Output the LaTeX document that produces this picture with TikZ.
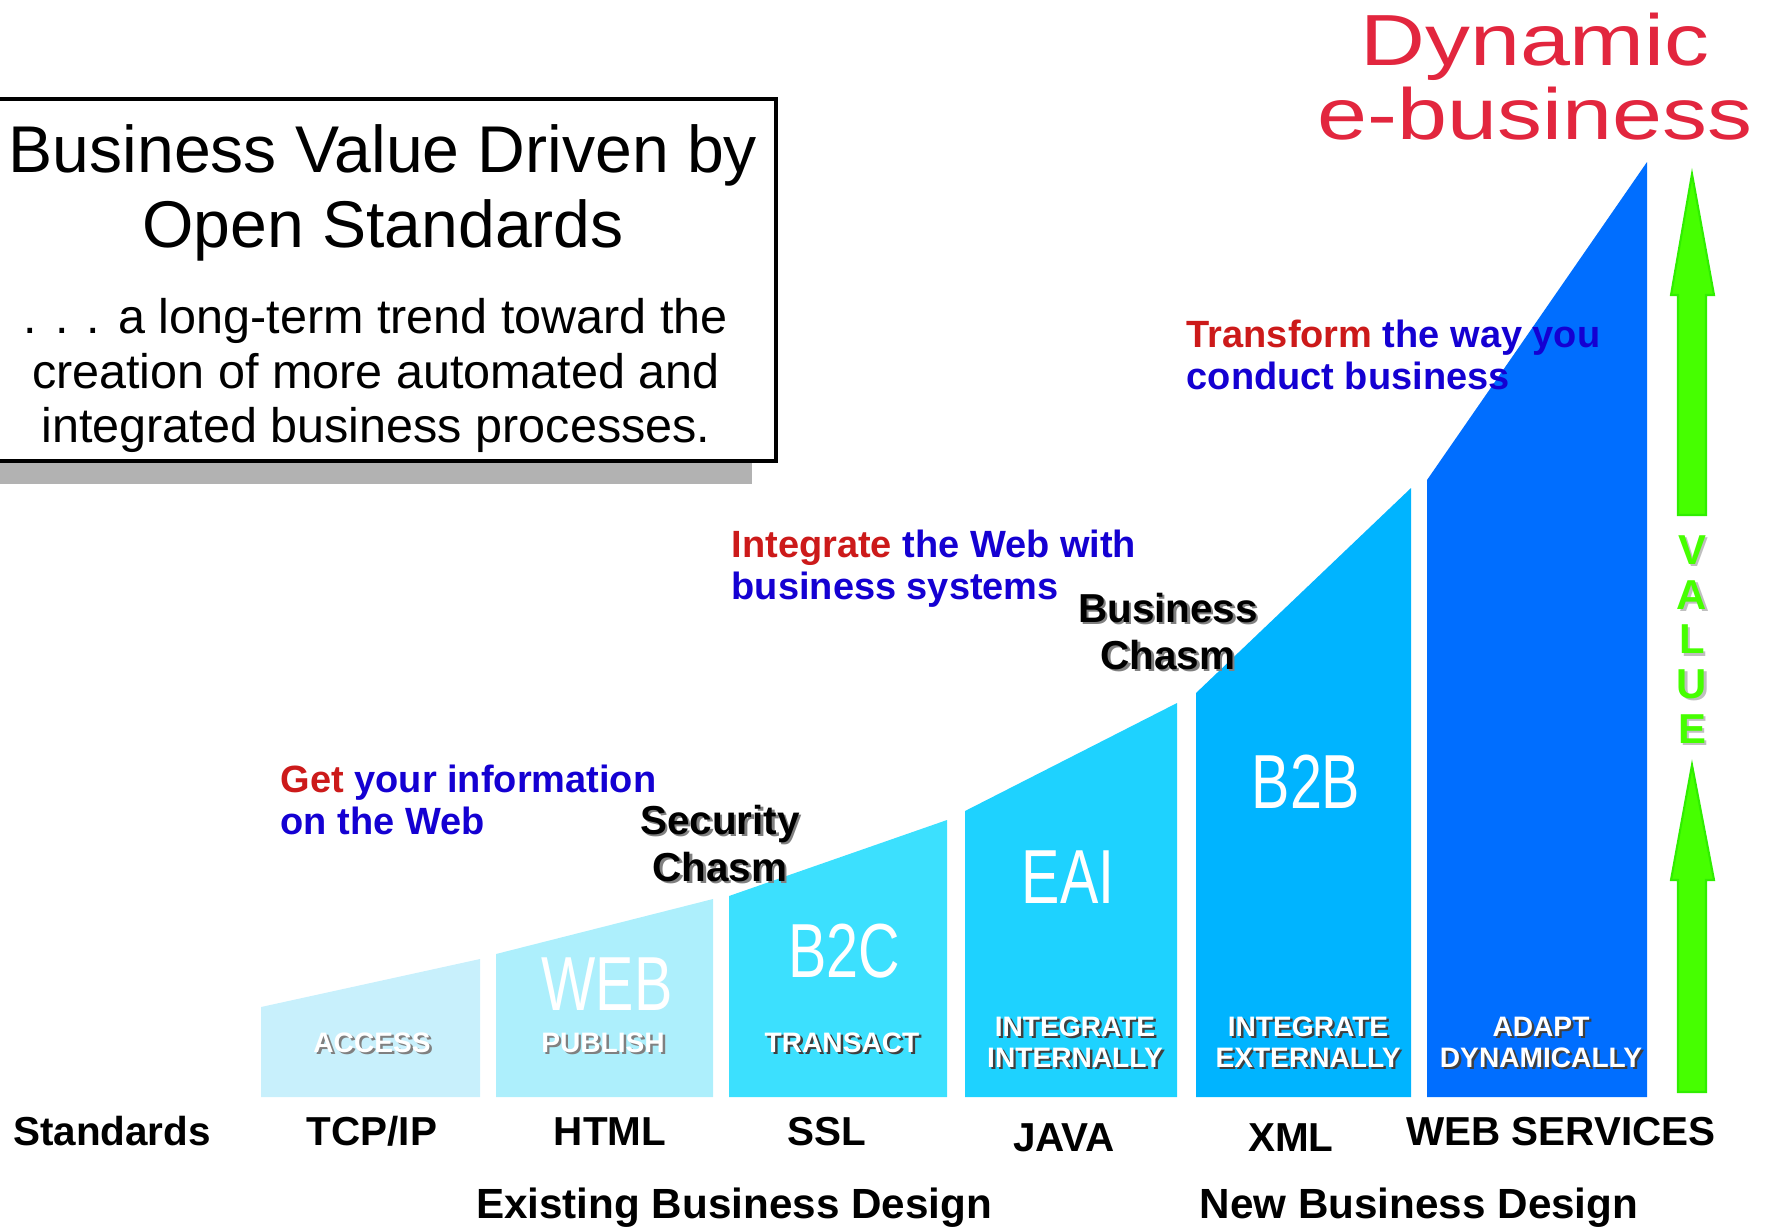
\documentclass[tikz,border=0pt]{standalone}
\usepackage{fontspec}
\setmainfont{Liberation Sans}
\newfontfamily\widesans[FakeStretch=1.24]{Liberation Sans}
\newfontfamily\narrowsans[FakeStretch=0.75]{Liberation Sans}
\usepackage{xcolor}
\usepackage{tikz}
\definecolor{cAccess}{HTML}{C8F0FC}
\definecolor{cWeb}{HTML}{ADEFFC}
\definecolor{cBtoC}{HTML}{3CE0FE}
\definecolor{cEai}{HTML}{1ED2FF}
\definecolor{cBtoB}{HTML}{00B4FF}
\definecolor{cAdapt}{HTML}{006EFF}
\definecolor{cRed}{HTML}{CC1A1A}
\definecolor{cBlue}{HTML}{1400D2}
\definecolor{cDyn}{HTML}{E2263E}
\definecolor{cGreen}{HTML}{46FF00}
\definecolor{cGreenD}{HTML}{30EE00}
\definecolor{cShadow}{HTML}{B2B2B2}
% testo con ombra
\newcommand{\dropsh}[2]{\rlap{\color{#1}\kern0.7pt\raisebox{-0.7pt}{#2}}#2}

\begin{document}
\begin{tikzpicture}[x=0.01cm,y=-0.01cm,
	big/.style = {text=white,font=\narrowsans\fontsize{21.8}{24}\selectfont,anchor=base,inner sep=0pt},
	small/.style = {text=white,font=\bfseries\fontsize{8}{8.8}\selectfont,align=center,anchor=north,inner sep=0pt},
	std/.style = {font=\bfseries\fontsize{11.5}{13}\selectfont,anchor=base,inner sep=0pt},
	head/.style = {text=cBlue,font=\bfseries\fontsize{10.8}{12}\selectfont,align=left,anchor=north west,inner sep=0pt},
	chasm/.style = {font=\bfseries\fontsize{11.5}{13.5}\selectfont,align=center,anchor=north,inner sep=0pt},
	valarrow/.style = {fill=cGreen,draw=cGreenD,line width=0.6pt}
	]
	\useasboundingbox (0,0) rectangle (1769,1226);
	%RIQUADRO TITOLO
	\fill[cShadow] (-20,461) rectangle (752,484);
	\draw[fill=white,line width=1.2pt] (-20,99) rectangle (776,461);
	\node[anchor=north,inner sep=0pt,align=center,font=\fontsize{18.8}{21.3}\selectfont] (title) at (383,124) {Business Value Driven by\\Open Standards};
	\node[anchor=north,inner sep=0pt,align=center,font=\fontsize{13.8}{15.5}\selectfont] (trend) at (376,298) {. . . a long-term trend toward the\\creation of more automated and\\integrated business processes.};
	%COLONNE
	\fill[cAccess] (261,1097) -- (261,1007) -- (480,959) -- (480,1097) -- cycle;
	\fill[cWeb] (496,1097) -- (496,954) -- (713,899) -- (713,1097) -- cycle;
	\fill[cBtoC] (729,1097) -- (729,896) -- (947,820) -- (947,1097) -- cycle;
	\fill[cEai] (965,1097) -- (965,811) -- (1177,703) -- (1177,1097) -- cycle;
	\fill[cBtoB] (1196,1097) -- (1196,693) -- (1411,488) -- (1411,1097) -- cycle;
	\fill[cAdapt] (1427,1097) -- (1427,480) -- (1647,162) -- (1647,1097) -- cycle;
	%Scritte grandi
	\node[big] (web) at (607,1010) {WEB};
	\node[big] (btoc) at (844,977) {B2C};
	\node[big] (eai) at (1068,903) {EAI};
	\node[big] (btob) at (1306,808) {B2B};
	%Scritte piccole
	\node[small] (access) at (372,1032) {\dropsh{gray}{ACCESS}};
	\node[small] (publish) at (603,1032) {\dropsh{gray}{PUBLISH}};
	\node[small] (transact) at (842,1032) {\dropsh{darkgray}{TRANSACT}};
	\node[small] (intint) at (1075,1016) {\dropsh{darkgray}{INTEGRATE}\\\dropsh{darkgray}{INTERNALLY}};
	\node[small] (intext) at (1308,1016) {\dropsh{darkgray}{INTEGRATE}\\\dropsh{darkgray}{EXTERNALLY}};
	\node[small] (adapt) at (1541,1016) {\dropsh{darkgray}{ADAPT}\\\dropsh{darkgray}{DYNAMICALLY}};
	%Standard
	\node[std] (standards) at (112,1145) {Standards};
	\node[std] (tcpip) at (372,1145) {TCP/IP};
	\node[std] (html) at (610,1145) {HTML};
	\node[std] (ssl) at (827,1145) {SSL};
	\node[std] (java) at (1064,1151) {JAVA};
	\node[std] (xml) at (1291,1151) {XML};
	\node[std] (websvc) at (1561,1145) {WEB SERVICES};
	\node[std,font=\bfseries\fontsize{12}{14}\selectfont] (existing) at (734,1218) {Existing Business Design};
	\node[std,font=\bfseries\fontsize{12}{14}\selectfont] (newdesign) at (1419,1218) {New Business Design};
	%Frasi
	\node[head] (getinfo) at (280,764) {{\color{cRed}Get} your information\\on the Web};
	\node[head] (integrate) at (731,529) {{\color{cRed}Integrate} the Web with\\business systems};
	\node[head] (transform) at (1186,319) {{\color{cRed}Transform} the way you\\conduct business};
	\node[chasm] (security) at (720,804) {\dropsh{gray}{Security}\\\dropsh{gray}{Chasm}};
	\node[chasm] (business) at (1168,592) {\dropsh{gray}{Business}\\\dropsh{gray}{Chasm}};
	\node[anchor=north,inner sep=0pt,align=center,text=cDyn,font=\widesans\fontsize{20.6}{21}\selectfont] (dynamic) at (1535,12) {Dynamic\\e-business};
	%VALORE
	\draw[valarrow] (1678,515) -- (1678,295) -- (1671,295) -- (1692,174) -- (1714,295) -- (1706,295) -- (1706,515) -- cycle;
	\draw[valarrow] (1678,1092) -- (1678,880) -- (1671,880) -- (1692,765) -- (1714,880) -- (1706,880) -- (1706,1092) -- cycle;
	\node[anchor=north,inner sep=0pt,align=center,text=cGreen,font=\bfseries\fontsize{11.9}{12.7}\selectfont] (value) at (1692,535) {\dropsh{lightgray}{V}\\\dropsh{lightgray}{A}\\\dropsh{lightgray}{L}\\\dropsh{lightgray}{U}\\\dropsh{lightgray}{E}};
\end{tikzpicture}
\end{document}
